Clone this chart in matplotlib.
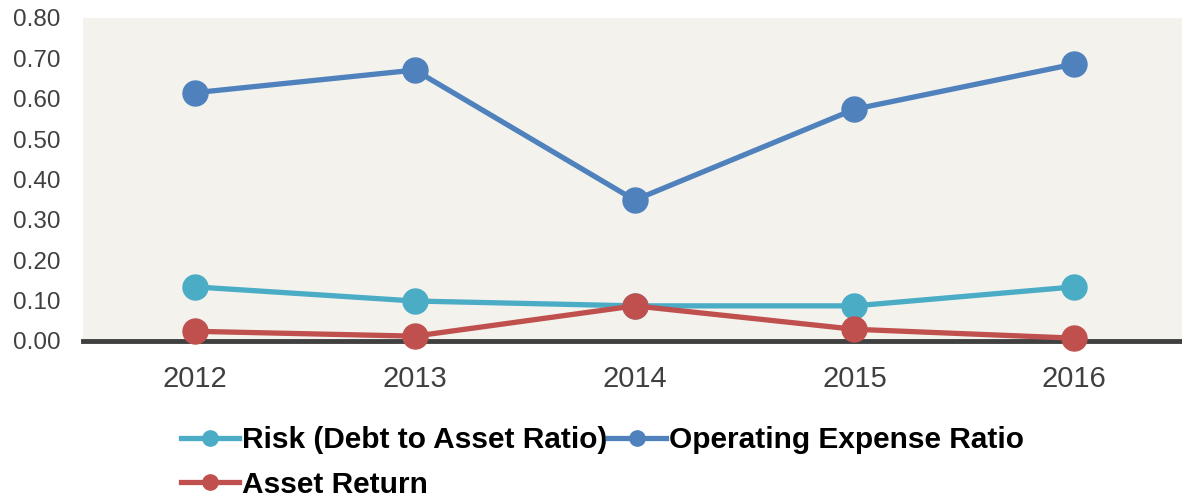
import matplotlib.pyplot as plt
import numpy as np
from matplotlib.lines import Line2D

years = ["2012", "2013", "2014", "2015", "2016"]
risk = [0.134, 0.099, 0.087, 0.087, 0.134]
opex = [0.615, 0.671, 0.349, 0.574, 0.686]
asset_ret = [0.024, 0.012, 0.087, 0.029, 0.007]

plt.rcParams["font.family"] = ["Liberation Sans", "DejaVu Sans"]

fig = plt.figure(figsize=(11.82, 4.97), dpi=100)
ax = fig.add_axes([0.0702, 0.3139, 0.9298, 0.6499])
ax.set_facecolor("#F3F2ED")

x = np.arange(len(years))
series = [
    ("Risk (Debt to Asset Ratio)", risk, "#4BACC6"),
    ("Operating Expense Ratio", opex, "#4F81BD"),
    ("Asset Return", asset_ret, "#C0504D"),
]
for label, vals, col in series:
    ax.plot(x, vals, color=col, lw=3.8, marker="o", ms=18, label=label,
            solid_capstyle="round", clip_on=False, zorder=3)

ax.set_xlim(-0.51, 4.49)
ax.set_ylim(0, 0.8)
yt = np.arange(0, 0.81, 0.1)
ax.set_yticks(yt)
ax.set_yticklabels([f"{v:.2f}" for v in yt])
ax.set_xticks(x)
ax.set_xticklabels(years)
for s in ["top", "right", "left"]:
    ax.spines[s].set_visible(False)
ax.spines["bottom"].set_color("#404040")
ax.spines["bottom"].set_linewidth(3.5)
ax.spines["bottom"].set_zorder(2)
ax.tick_params(axis="both", length=0, colors="#404040")
ax.tick_params(axis="x", pad=17, labelsize=21)
ax.tick_params(axis="y", pad=16, labelsize=17.5)

# legend: column 1 = Risk, Asset Return; column 2 = Operating Expense
order = [0, 2, 1]
handles = [Line2D([0], [0], color=series[i][2], lw=3.8, marker="o", ms=11) for i in order]
labels = [series[i][0] for i in order]
fig.legend(handles, labels, ncol=2, loc="upper left",
           bbox_to_anchor=(0.143, 0.166), frameon=False,
           prop={"weight": "bold", "size": 21.5},
           handlelength=1.95, handletextpad=0.1, columnspacing=0.0,
           labelspacing=0.55, borderaxespad=0)

fig.savefig("out.png", dpi=100)
